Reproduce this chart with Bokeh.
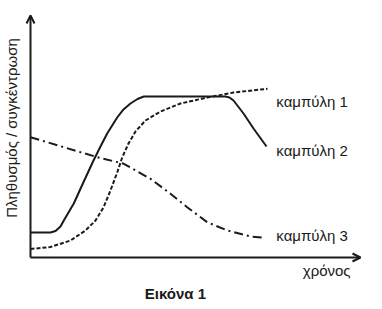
import math
from bokeh.plotting import figure
from bokeh.models import Range1d, Arrow, OpenHead, Label
from bokeh.embed import file_html
from bokeh.resources import INLINE
from bokeh.core.properties import value

# data (arbitrary units: time 0..100, level 0..100)
c2_t = [0, 6.06, 7.58, 9.09, 10.09, 13.12, 16.15, 19.09, 21.21, 23.24, 26.27, 28.18,
        30.30, 32.42, 34.33, 59.09, 60.30, 61.52, 64.55, 67.58, 71.52]
c2_v = [10.33, 10.33, 10.95, 12.81, 15.29, 22.31, 31.40, 40.08, 45.87, 51.24, 57.85, 61.16,
        63.64, 65.50, 66.53, 66.53, 66.12, 64.88, 59.50, 53.31, 45.87]

c1_t = [0, 6.06, 12.12, 16.67, 19.70, 22.12, 24.24, 26.27, 27.79, 29.70, 31.82, 34.85,
        39.39, 45.45, 53.64, 61.52, 71.82]
c1_v = [3.51, 4.34, 7.02, 11.16, 15.29, 20.66, 27.69, 35.12, 41.32, 47.11, 52.07, 56.61,
        60.33, 63.64, 66.12, 68.18, 69.71]

c3_t = [0, 20.21, 28.27, 36.36, 42.42, 47.48, 53.55, 59.61, 66.67, 71.21]
c3_v = [49.71, 41.45, 38.72, 32.52, 26.32, 20.79, 14.59, 11.16, 8.68, 8.14]

labels = ["καμπύλη 1", "καμπύλη 2", "καμπύλη 3"]
label_t = [74.5, 74.5, 74.5]
label_v = [64.3, 44.2, 8.9]

x_title = "χρόνος"
y_title = "Πληθυσμός / συγκέντρωση"
caption = "Εικόνα 1"

FONT = "Liberation Sans"
INK = "#1a1a1a"

p = figure(width=382, height=309, output_backend="svg", toolbar_location=None,
           x_range=Range1d(-9.09, 106.67), y_range=Range1d(-21.49, 106.2),
           min_border=0)
p.axis.visible = False
p.grid.visible = False
p.outline_line_color = None
p.background_fill_color = "white"
p.border_fill_color = "white"

# axes with arrows
p.add_layout(Arrow(end=OpenHead(size=8, line_width=2, line_color=INK),
                   x_start=0, y_start=0, x_end=0, y_end=100,
                   line_width=2, line_color=INK))
p.add_layout(Arrow(end=OpenHead(size=8, line_width=2, line_color=INK),
                   x_start=0, y_start=0, x_end=100, y_end=0,
                   line_width=2, line_color=INK))

p.line(c2_t, c2_v, line_color=INK, line_width=2, line_join="round")
p.line(c1_t, c1_v, line_color=INK, line_width=2, line_dash="4 2")
p.line(c3_t, c3_v, line_color=INK, line_width=2, line_dash="9 4 2 4")

p.text(x=label_t, y=label_v, text=labels, text_font=value(FONT),
       text_font_size="15px", text_color=INK, text_baseline="middle", text_align="left")

p.add_layout(Label(x=97, y=-5.4, text=x_title, text_font=FONT, text_font_size="15px",
                   text_color=INK, text_align="right", text_baseline="middle"))
p.add_layout(Label(x=-5.8, y=53.5, text=y_title, text_font=FONT, text_font_size="15px",
                   text_color=INK, text_align="center", text_baseline="middle",
                   angle=math.pi / 2))
p.add_layout(Label(x=43.9, y=-14.9, text=caption, text_font=FONT, text_font_size="15px",
                   text_font_style="bold", text_color=INK, text_align="center",
                   text_baseline="middle"))

open("out.html", "w").write(file_html(p, INLINE))
